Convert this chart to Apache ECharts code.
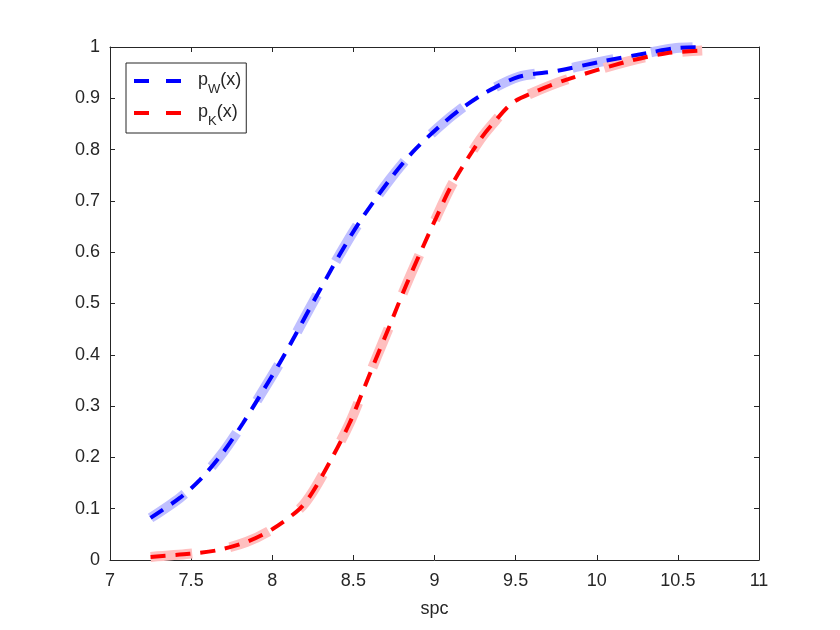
<!DOCTYPE html>
<html>
<head>
<meta charset="utf-8">
<script src="https://cdn.jsdelivr.net/npm/echarts@6/dist/echarts.min.js"></script>
<style>
  html, body { margin: 0; padding: 0; background: #fff; }
  #chart { width: 840px; height: 630px; }
</style>
</head>
<body>
<div id="chart"></div>
<script>
// 读图得到的数据 (spc, p)
var pW = [
  [7.25, 0.082], [7.43, 0.121], [7.554, 0.156], [7.695, 0.209], [7.82, 0.267],
  [7.92, 0.318], [8.046, 0.384], [8.15, 0.443], [8.23, 0.49], [8.335, 0.55],
  [8.415, 0.595], [8.538, 0.659], [8.723, 0.741], [8.865, 0.795], [9.03, 0.845],
  [9.17, 0.881], [9.32, 0.912], [9.52, 0.942], [9.75, 0.953], [10.02, 0.971],
  [10.34, 0.99], [10.49, 0.998], [10.65, 1.0]
];
var pK = [
  [7.25, 0.006], [7.49, 0.012], [7.66, 0.019], [7.84, 0.035], [8.0, 0.06],
  [8.17, 0.10], [8.25, 0.133], [8.37, 0.2], [8.477, 0.267], [8.557, 0.328],
  [8.643, 0.395], [8.723, 0.456], [8.785, 0.505], [8.865, 0.565], [9.01, 0.667],
  [9.11, 0.733], [9.28, 0.819], [9.38, 0.858], [9.48, 0.891], [9.60, 0.910],
  [9.81, 0.936], [10.18, 0.971], [10.43, 0.988], [10.65, 0.993]
];
var legendNames = ['pW', 'pK'];
var legendSubs = { pW: 'W', pK: 'K' };

var axisColor = '#262626';
var font = 'Liberation Sans, Arial, Helvetica, sans-serif';

var chart = echarts.init(document.getElementById('chart'), null, { renderer: 'canvas' });

function boxAxis(pos, show) {
  return {
    type: 'value',
    position: pos,
    axisLine: { show: true, onZero: false, lineStyle: { color: axisColor, width: 1 } },
    axisTick: { show: true, inside: true, length: 5, lineStyle: { color: axisColor } },
    splitLine: { show: false },
    axisLabel: { show: show }
  };
}

var xBottom = boxAxis('bottom', true);
xBottom.min = 7; xBottom.max = 11; xBottom.interval = 0.5;
xBottom.name = 'spc';
xBottom.nameLocation = 'middle';
xBottom.nameGap = 40;
xBottom.nameTextStyle = { color: axisColor, fontSize: 18, fontFamily: font };
xBottom.axisLabel = { show: true, color: axisColor, fontSize: 18, fontFamily: font, margin: 12 };

var xTop = boxAxis('top', false);
xTop.min = 7; xTop.max = 11; xTop.interval = 0.5;

var yLeft = boxAxis('left', true);
yLeft.min = 0; yLeft.max = 1; yLeft.interval = 0.1;
yLeft.axisLabel = { show: true, color: axisColor, fontSize: 18, fontFamily: font, margin: 10 };

var yRight = boxAxis('right', false);
yRight.min = 0; yRight.max = 1; yRight.interval = 0.1;

function wideLine(data, color) {
  return {
    name: 'band',
    type: 'line',
    data: data,
    smooth: 0.3,
    symbol: 'none',
    silent: true,
    lineStyle: { color: color, width: 10, type: [42, 38], cap: 'butt' },
    z: 1
  };
}
function dashLine(name, data, color) {
  return {
    name: name,
    type: 'line',
    data: data,
    smooth: 0.3,
    symbol: 'none',
    lineStyle: { color: color, width: 4, type: [15, 10], cap: 'butt' },
    itemStyle: { color: color },
    z: 3
  };
}

var option = {
  animation: false,
  backgroundColor: '#fff',
  grid: { left: 110, right: 81, top: 47, bottom: 70 },
  xAxis: [xBottom, xTop],
  yAxis: [yLeft, yRight],
  legend: {
    data: legendNames,
    orient: 'vertical',
    left: 126,
    top: 63,
    padding: [8, 5, 5, 6],
    itemGap: 7,
    itemWidth: 47,
    itemHeight: 14,
    borderColor: axisColor,
    borderWidth: 1,
    borderRadius: 0,
    backgroundColor: '#fff',
    itemStyle: { opacity: 0 },
    lineStyle: { width: 4, type: [15, 17], cap: 'butt' },
    formatter: function (name) {
      return '{p|p}{b|' + legendSubs[name] + '}{a|(x)}';
    },
    textStyle: {
      color: axisColor,
      fontFamily: font,
      rich: {
        p: { fontSize: 18, fontFamily: font, color: axisColor, lineHeight: 20, verticalAlign: 'top', padding: [0, 0, 0, 12] },
        a: { fontSize: 18, fontFamily: font, color: axisColor, lineHeight: 20, verticalAlign: 'top' },
        b: { fontSize: 13, fontFamily: font, color: axisColor, lineHeight: 13, verticalAlign: 'top', padding: [12, 0, 0, 0] }
      }
    }
  },
  series: [
    wideLine(pW, '#bfbfff'),
    wideLine(pK, '#ffbfbf'),
    dashLine('pW', pW, '#0000ff'),
    dashLine('pK', pK, '#ff0000')
  ]
};

chart.setOption(option);
</script>
</body>
</html>
